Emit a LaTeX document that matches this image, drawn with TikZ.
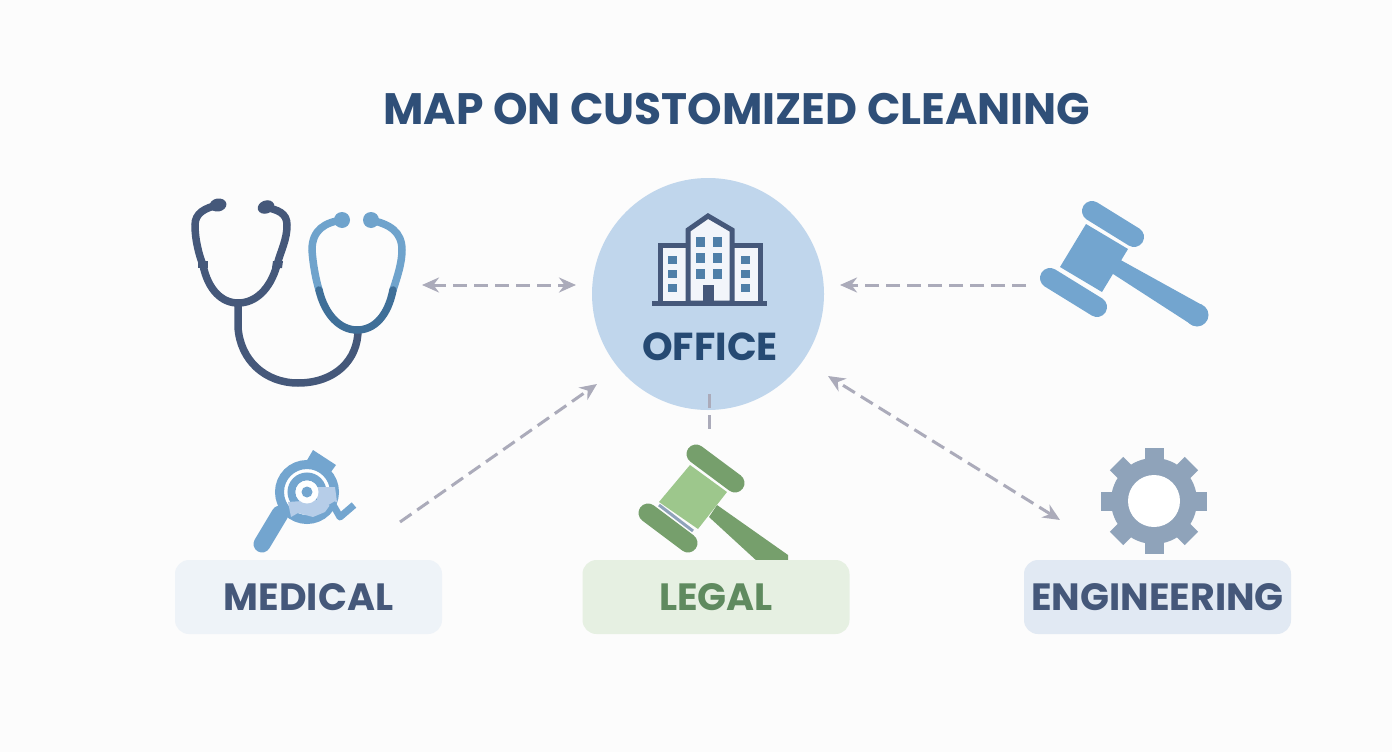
\documentclass[tikz,border=0pt]{standalone}
\usepackage{fontspec}
\setmainfont{Poppins}
\usetikzlibrary{arrows.meta}
\definecolor{titleblue}{HTML}{2F4F78}
\definecolor{officefill}{HTML}{C0D6EC}
\definecolor{officetext}{HTML}{264A73}
\definecolor{slate}{HTML}{45587A}
\definecolor{steelblue}{HTML}{3F6F98}
\definecolor{skyblue}{HTML}{6FA3CC}
\definecolor{iconblue}{HTML}{73A5CF}
\definecolor{paleblue}{HTML}{B6CDE8}
\definecolor{windowblue}{HTML}{4F7FA8}
\definecolor{walls}{HTML}{F2F5FA}
\definecolor{arrowgrey}{HTML}{ABABBA}
\definecolor{greendark}{HTML}{769F6C}
\definecolor{greenlight}{HTML}{9DC78C}
\definecolor{gearblue}{HTML}{8FA3BA}
\definecolor{medfill}{HTML}{EEF3F8}
\definecolor{legalfill}{HTML}{E6F0E2}
\definecolor{engfill}{HTML}{E1E9F3}
\definecolor{legaltext}{HTML}{5F8A5F}
\begin{document}
\begin{tikzpicture}[x=1pt,y=-1pt,>={Stealth[length=17pt,width=15pt]}]
  \tikzstyle{heading}=[font=\fontsize{44}{50}\selectfont\bfseries, text=titleblue, inner sep=0pt]
  \tikzstyle{labelbox}=[rounded corners=14pt, minimum width=267pt, minimum height=74pt, inner sep=0pt,
    font=\fontsize{38}{44}\selectfont\bfseries]
  \tikzstyle{flow}=[arrowgrey, line width=3pt, dash pattern=on 14pt off 7pt]
  \tikzstyle{tube}=[line width=7.5pt, line cap=round]
  \tikzstyle{gavelbar}=[line width=20pt, line cap=round]
  \tikzstyle{windowbox}=[fill=windowblue]

  \useasboundingbox (0,0) rectangle (1392,752);
  \fill[white!99!black] (0,0) rectangle (1392,752);

  % Title and office circle
  \node[heading] (title) at (737,109) {MAP ON CUSTOMIZED CLEANING};
  \node[circle, fill=officefill, minimum size=232pt, inner sep=0pt] (office) at (708,294) {};

  % Building
  \draw[slate, line width=5pt, fill=walls] (660,303) -- (660,245) -- (690,245) -- (690,303) -- cycle;
  \draw[slate, line width=5pt, fill=walls] (730,303) -- (730,245) -- (760,245) -- (760,303) -- cycle;
  \draw[slate, line width=5pt, fill=walls] (688,303) -- (688,230) -- (708,216) -- (732,230) -- (732,303) -- cycle;
  \fill[slate] (652,301) rectangle (767,306);
  \foreach \wy in {242,258,274} {
    \fill[windowbox] (696,\wy-5) rectangle (705,\wy+5);
    \fill[windowbox] (713,\wy-5) rectangle (722,\wy+5);
  }
  \foreach \wy in {260,274,288} {
    \fill[windowbox] (668,\wy-4) rectangle (677,\wy+4);
    \fill[windowbox] (741,\wy-4) rectangle (750,\wy+4);
  }
  \fill[slate] (703,285) rectangle (714,303);
  \node[font=\fontsize{39}{44}\selectfont\bfseries, text=officetext, inner sep=0pt] (officeLabel) at (710,347) {OFFICE};

  % Stethoscope
  \draw[slate, tube] (218,205) .. controls (205,208) and (195,213) .. (195,225)
    .. controls (195,240) and (199,255) .. (203,265) .. controls (208,290) and (222,303) .. (238,303)
    .. controls (255,303) and (270,290) .. (277,265) .. controls (281,250) and (287,240) .. (287,225)
    .. controls (287,213) and (278,210) .. (265,207);
  \draw[slate, tube] (238,303) -- (238,327) .. controls (240,360) and (265,383) .. (298,383)
    .. controls (335,383) and (358,360) .. (358,330);
  \draw[skyblue, tube] (343,220) .. controls (325,222) and (312,230) .. (312,250)
    .. controls (313,265) and (316,280) .. (319,290);
  \draw[skyblue, tube] (393,290) .. controls (398,275) and (402,262) .. (402,250)
    .. controls (402,232) and (390,224) .. (370,220);
  \draw[steelblue, tube] (319,290) .. controls (325,315) and (340,330) .. (357,330)
    .. controls (375,330) and (388,315) .. (393,290);
  \fill[slate, rotate around={10:(218,205)}] (218,205) ellipse (8.5pt and 6.5pt);
  \fill[slate, rotate around={20:(266,207)}] (266,207) ellipse (8.5pt and 6.5pt);
  \fill[skyblue] (342,220) circle (8pt);
  \fill[skyblue] (371,220) circle (8pt);
  \fill[slate] (198,261) -- (208,261) -- (208,268) -- (198,268) -- cycle;
  \fill[slate] (273,261) -- (283,261) -- (282,268) -- (272,268) -- cycle;

  % Magnifier
  \draw[iconblue, line width=17pt, line cap=round] (280,514) -- (262,544);
  \fill[iconblue] (313,450) -- (336,465) -- (328,476) -- (306,462) -- cycle;
  \fill[white] (307,492) circle (31pt);
  \draw[iconblue, line width=9pt] (307,492) circle (27.5pt);
  \draw[iconblue, line width=8pt] (307,492) circle (15.5pt);
  \fill[paleblue] (288,502) -- (291,517) -- (298,513) -- (313,517) -- (325,512) -- (330,505) -- (337,502) -- (335,487) -- (318,487) -- (317,500) -- cycle;
  \fill[white] (307,492) circle (11.5pt);
  \fill[iconblue] (307,492) circle (5.5pt);
  \draw[iconblue, line width=7pt, line join=round] (332,503) -- (340,517) -- (354,505);

  % Legal gavel
  \fill[greendark] (717,505) -- (788,555) -- (788,562) -- (758,562) -- (709,517) -- cycle;
  \draw[greendark, line width=19pt, line cap=round] (696,454) -- (735,483);
  \draw[greendark, line width=19pt, line cap=round] (648,513) -- (688,543);
  \draw[gearblue, line width=3pt] (659,505) -- (693,531);
  \fill[greenlight] (690,465) -- (727,492) -- (698,529) -- (659,502) -- cycle;

  % Law gavel
  \draw[iconblue, gavelbar] (1092,211) -- (1134,237);
  \draw[iconblue, gavelbar] (1050,278) -- (1097,307);
  \fill[white!99!black] (1078,220) -- (1132,250) -- (1106,295) -- (1052,264) -- cycle;
  \fill[iconblue] (1086,224) -- (1128,249) -- (1102,292) -- (1060,267) -- cycle;
  \fill[iconblue] (1117,258) -- (1202,305) -- (1192,325) -- (1110,272) -- cycle;
  \fill[iconblue] (1197,315) circle (11.5pt);

  % Gear
  \foreach \ang in {0,45,...,315} {
    \fill[gearblue, rotate around={\ang:(1154,501)}] (1144.5,501) rectangle (1163.5,448);
  }
  \fill[gearblue] (1154,501) circle (43pt);
  \fill[white] (1154,501) circle (26pt);

  % Label boxes
  \node[labelbox, fill=medfill, text=slate] (medical) at (308.5,597) {\raisebox{-3pt}{MEDICAL}};
  \node[labelbox, fill=legalfill, text=legaltext] (legal) at (716,597) {\raisebox{-3pt}{LEGAL}};
  \node[labelbox, fill=engfill, text=slate] (engineering) at (1157.5,597) {\raisebox{-3pt}{ENGINEERING}};

  % Relationships
  \coordinate (stethEnd) at (422,285);
  \coordinate (stethTip) at (576,285);
  \coordinate (lawEnd) at (1026,285);
  \coordinate (lawTip) at (840,285);
  \coordinate (medEnd) at (400,522);
  \coordinate (medTip) at (597,384);
  \coordinate (gearEnd) at (1060,520);
  \coordinate (officeTip) at (828,376);
  \coordinate (legalTop) at (709,394);
  \coordinate (legalEnd) at (709,436);
  \draw[<->, flow] (stethEnd) -- (stethTip);
  \draw[->, flow] (lawEnd) -- (lawTip);
  \draw[->, flow] (medEnd) -- (medTip);
  \draw[<->, flow] (gearEnd) -- (officeTip);
  \draw[flow] (legalTop) -- (legalEnd);
\end{tikzpicture}
\end{document}
